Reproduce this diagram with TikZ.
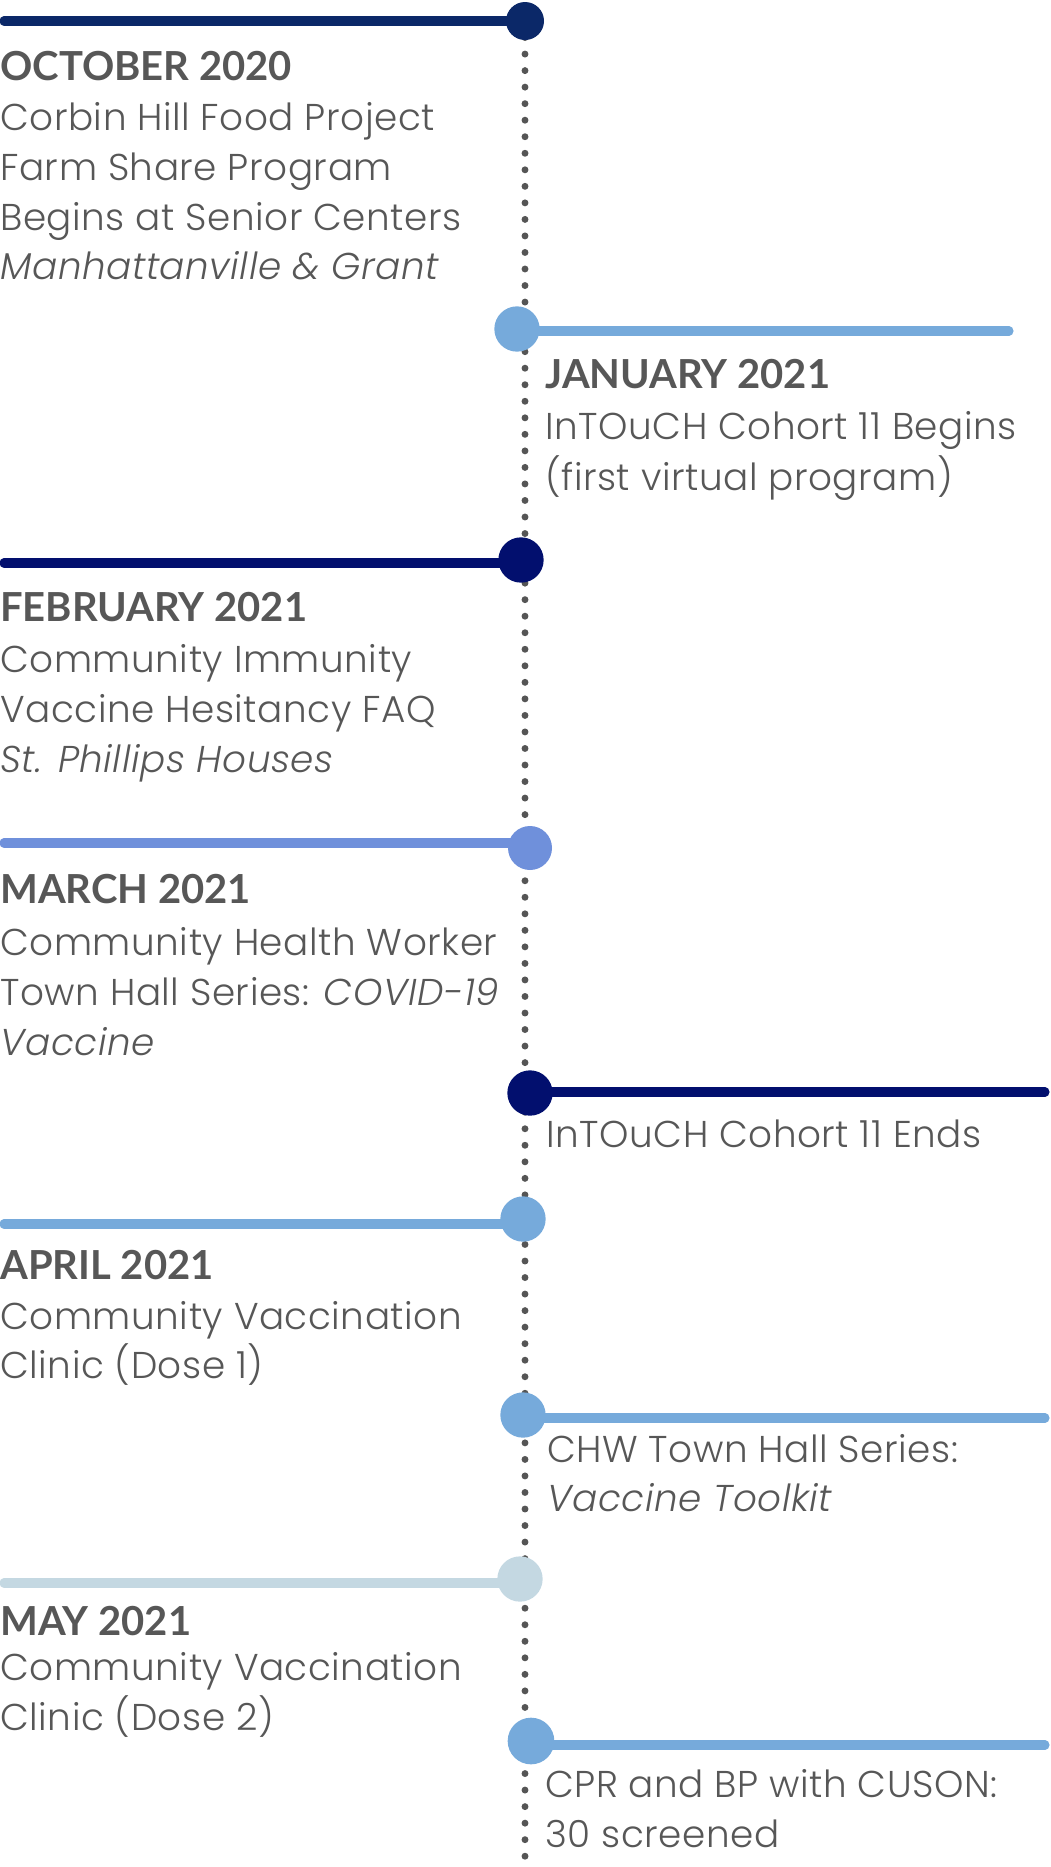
\documentclass[tikz,border=0pt]{standalone}
\usepackage{fontspec}
\setmainfont{Poppins}[UprightFont=* Light, ItalicFont=* Light Italic]
\newfontfamily\headfont{Lato}
\definecolor{txt}{HTML}{575757}
\definecolor{spinec}{HTML}{555555}
\definecolor{navyA}{HTML}{0B2868}
\definecolor{navyB}{HTML}{020F6E}
\definecolor{sky}{HTML}{76AADB}
\definecolor{peri}{HTML}{6F90DB}
\definecolor{pale}{HTML}{C4D8E2}
\tikzset{
  bar/.style={line width=6.8pt, line cap=round, draw=#1},
  milestone/.style={circle, inner sep=0pt, minimum size=#1, draw=none},
  spine/.style={line width=5.2pt, line cap=round, dash pattern=on 0pt off 12.4pt, draw=spinec},
  head/.style={anchor=base west, inner sep=0pt, text=txt, font=\headfont\bfseries\fontsize{30}{36}\selectfont},
  body/.style={anchor=base west, inner sep=0pt, text=txt, font=\fontsize{28}{36}\selectfont\addfontfeature{LetterSpace=1.5}}
}
\begin{document}
\begin{tikzpicture}[x=0.75pt,y=-0.75pt]
\useasboundingbox (0,0) rectangle (1050,1867);
% spine
\coordinate (top) at (525,21);
\coordinate (bot) at (525,1872);
\draw[spine] (top) -- (bot);
% milestones
\node[milestone=28.5pt, fill=navyA] (m1) at (525,21) {};
\node[milestone=34pt, fill=sky] (m2) at (517,329) {};
\node[milestone=34pt, fill=navyB] (m3) at (521,560) {};
\node[milestone=33pt, fill=peri] (m4) at (530,848) {};
\node[milestone=34pt, fill=navyB] (m5) at (530,1093) {};
\node[milestone=34pt, fill=sky] (m6) at (523,1219) {};
\node[milestone=34pt, fill=sky] (m7) at (523,1415) {};
\node[milestone=34pt, fill=pale] (m8) at (520,1579) {};
\node[milestone=35pt, fill=sky] (m9) at (531,1741) {};
% bar free ends
\coordinate (e1) at (4,21);
\coordinate (e2) at (1009,331);
\coordinate (e3) at (4,563);
\coordinate (e4) at (4,843);
\coordinate (e5) at (1045,1092);
\coordinate (e6) at (4,1224);
\coordinate (e7) at (1045,1418);
\coordinate (e8) at (4,1583);
\coordinate (e9) at (1045,1745);
\draw[bar=navyA] (e1) -- (e1 -| m1);
\draw[bar=sky] (e2 -| m2) -- (e2);
\draw[bar=navyB] (e3) -- (e3 -| m3);
\draw[bar=peri] (e4) -- (e4 -| m4);
\draw[bar=navyB] (e5 -| m5) -- (e5);
\draw[bar=sky] (e6) -- (e6 -| m6);
\draw[bar=sky] (e7 -| m7) -- (e7);
\draw[bar=pale] (e8) -- (e8 -| m8);
\draw[bar=sky] (e9 -| m9) -- (e9);
% October 2020
\node[head] (h1) at (0,80) {OCTOBER 2020};
\node[body] (t1a) at (0,130) {Corbin Hill Food Project};
\node[body] (t1b) at (0,180) {Farm Share Program};
\node[body] (t1c) at (0,230) {Begins at Senior Centers};
\node[body] (t1d) at (0,279) {\itshape Manhattanville \& Grant};
% January 2021
\node[head] (h2) at (545,388) {JANUARY 2021};
\node[body] (t2a) at (545,439) {InTOuCH Cohort 11 Begins};
\node[body] (t2b) at (545,490) {(first virtual program)};
% February 2021
\node[head] (h3) at (0,621) {FEBRUARY 2021};
\node[body] (t3a) at (0,672) {Community Immunity};
\node[body] (t3b) at (0,722) {Vaccine Hesitancy FAQ};
\node[body] (t3c) at (0,772) {\itshape St. Phillips Houses};
% March 2021
\node[head] (h4) at (0,903) {MARCH 2021};
\node[body] (t4a) at (0,955) {Community Health Worker};
\node[body] (t4b) at (0,1005) {Town Hall Series: \textit{COVID-19}};
\node[body] (t4c) at (0,1055) {\itshape Vaccine};
% Cohort ends
\node[body] (t5a) at (546,1147) {InTOuCH Cohort 11 Ends};
% April 2021
\node[head] (h6) at (0,1279) {APRIL 2021};
\node[body] (t6a) at (0,1329) {Community Vaccination};
\node[body] (t6b) at (0,1378) {Clinic (Dose 1)};
% CHW
\node[body] (t7a) at (547,1462) {CHW Town Hall Series:};
\node[body] (t7b) at (547,1511) {\itshape Vaccine Toolkit};
% May 2021
\node[head] (h8) at (0,1635) {MAY 2021};
\node[body] (t8a) at (0,1680) {Community Vaccination};
\node[body] (t8b) at (0,1730) {Clinic (Dose 2)};
% CPR
\node[body] (t9a) at (545,1797) {CPR and BP with CUSON:};
\node[body] (t9b) at (545,1847) {30 screened};
\end{tikzpicture}
\end{document}
